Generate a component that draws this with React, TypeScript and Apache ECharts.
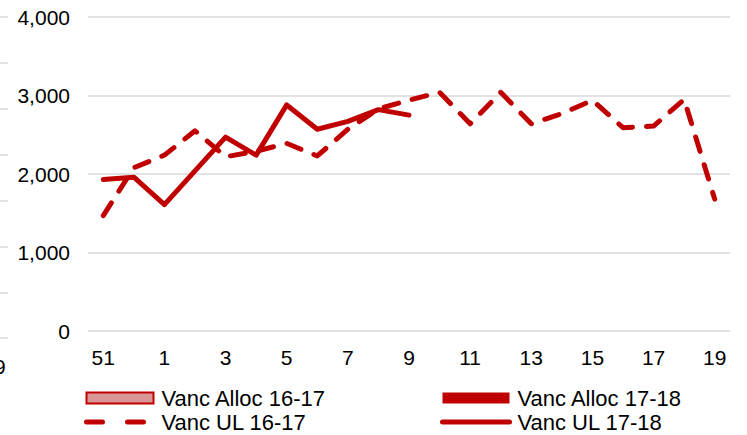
import React, { useEffect, useRef } from "react";
import * as echarts from "echarts";

const categories = ["51", "52", "1", "2", "3", "4", "5", "6", "7", "8", "9", "10", "11", "12", "13", "14", "15", "16", "17", "18", "19"];
const allocLY: (number | null)[] = [];
const allocTY: (number | null)[] = [];
const ulLY = [1470, 2080, 2240, 2550, 2220, 2290, 2390, 2230, 2570, 2830, 2940, 3040, 2640, 3040, 2640, 2770, 2940, 2590, 2610, 2950, 1680];
const ulTY = [1930, 1960, 1610, 2040, 2470, 2240, 2880, 2570, 2670, 2820, 2750];
const leftTicksY = [17, 63, 109, 155, 201, 247, 293, 338];

const RED = "#c00000";
const FONT = "'Liberation Sans', Arial, sans-serif";

export default function App() {
  const ref = useRef<HTMLDivElement>(null);
  useEffect(() => {
    const chart = echarts.init(ref.current!, null, { renderer: "svg" });
    const legendText = { fontSize: 22, fontFamily: FONT, color: "#000", lineHeight: 22, padding: [0, 0, 0, 3] };
    const legendBase = {
      orient: "vertical",
      top: 387,
      padding: 0,
      itemWidth: 67,
      itemHeight: 11,
      itemGap: 2,
      textStyle: legendText,
    };
    chart.setOption({
      animation: false,
      backgroundColor: "#fff",
      textStyle: { fontFamily: FONT },
      grid: { left: 88, right: 17, top: 17, bottom: 104, containLabel: false },
      xAxis: {
        type: "category",
        data: categories,
        boundaryGap: true,
        axisLine: { show: false },
        axisTick: { show: false },
        axisLabel: { interval: 1, fontSize: 21, color: "#000", fontFamily: FONT, margin: 16 },
      },
      yAxis: {
        type: "value",
        min: 0,
        max: 4000,
        interval: 1000,
        axisLine: { show: false },
        axisTick: { show: false },
        splitLine: { lineStyle: { color: "#d9d9d9", width: 1.5 } },
        axisLabel: {
          fontSize: 21,
          color: "#000",
          fontFamily: FONT,
          margin: 18,
          formatter: (v: number) => v.toLocaleString("en-US"),
        },
      },
      legend: [
        {
          ...legendBase,
          left: 84,
          data: [
            { name: "Vanc Alloc 16-17", icon: "rect" },
            {
              name: "Vanc UL 16-17",
              itemStyle: { opacity: 0 },
              lineStyle: { color: RED, width: 5, type: [16, 25], cap: "round" },
            },
          ],
        },
        {
          ...legendBase,
          left: 440,
          data: [
            { name: "Vanc Alloc 17-18", icon: "rect" },
            {
              name: "Vanc UL 17-18",
              itemStyle: { opacity: 0 },
              lineStyle: { color: RED, width: 5, type: "solid", cap: "round" },
            },
          ],
        },
      ],
      series: [
        {
          name: "Vanc Alloc 16-17",
          type: "bar",
          data: allocLY,
          itemStyle: { color: "#d99694", borderColor: RED, borderWidth: 1.5 },
        },
        {
          name: "Vanc Alloc 17-18",
          type: "bar",
          data: allocTY,
          itemStyle: { color: RED },
        },
        {
          name: "Vanc UL 16-17",
          type: "line",
          data: ulLY,
          symbol: "none",
          lineStyle: { color: RED, width: 5, type: [15, 14], cap: "round", join: "round" },
          itemStyle: { color: RED },
        },
        {
          name: "Vanc UL 17-18",
          type: "line",
          data: ulTY,
          symbol: "none",
          lineStyle: { color: RED, width: 5, cap: "round", join: "round" },
          itemStyle: { color: RED },
        },
      ],
      graphic: [
        ...leftTicksY.map((y) => ({
          type: "line",
          shape: { x1: 0, y1: y, x2: 8, y2: y },
          style: { stroke: "#d9d9d9", lineWidth: 1.5 },
          silent: true,
        })),
        {
          type: "text",
          x: -6,
          y: 366,
          style: { text: "9", fontSize: 21, fontFamily: FONT, fill: "#000", verticalAlign: "middle" },
          silent: true,
        },
      ],
    });
    return () => chart.dispose();
  }, []);
  return <div ref={ref} style={{ width: 747, height: 435, position: "absolute", left: 0, top: 0 }} />;
}
